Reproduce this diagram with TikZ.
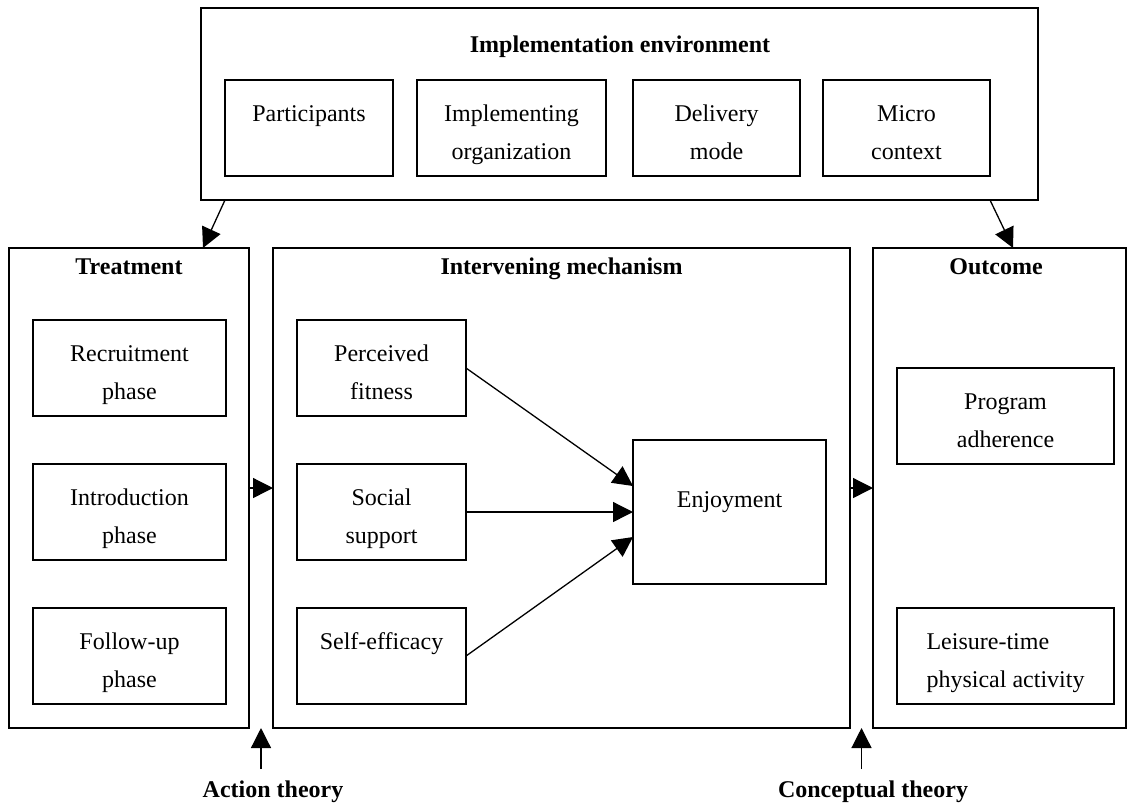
\documentclass[tikz,border=0pt]{standalone}
\usepackage{fontspec}
\setmainfont{Liberation Serif}
\usetikzlibrary{positioning,calc,arrows.meta}

\begin{document}
\begin{tikzpicture}[x=0.5pt,y=-0.5pt,line width=0.65pt,
  >={Triangle[length=10pt,width=10pt]},
  box/.style={draw,inner sep=0pt,outer sep=0pt,align=center,
    font=\fontsize{12}{19}\selectfont},
  item/.style={box,minimum height=48pt,text height=31.5pt,text depth=0pt},
  group/.style={box,minimum height=240pt},
  title/.style={anchor=base,font=\fontsize{12}{14}\selectfont\bfseries}]
  \useasboundingbox (0,0) rectangle (1128,805);

  % implementation environment
  \node[box,minimum width=418.5pt,minimum height=96pt] (env) at (619.5,104) {};
  \node[title] (tenv) at (620,52) {Implementation environment};
  \node[item,minimum width=84pt]   (part)  at (309,128)   {Participants\\\vphantom{g}};
  \node[item,minimum width=94.5pt] (impl)  at (511.5,128) {Implementing\\organization};
  \node[item,minimum width=83.5pt] (deliv) at (716.5,128) {Delivery\\mode};
  \node[item,minimum width=83.5pt] (micro) at (906.5,128) {Micro\\context};

  % treatment
  \node[group,minimum width=120pt] (treat) at (129,488) {};
  \node[title] (ttreat) at (129,274) {Treatment};
  \node[item,minimum width=96.5pt] (recr)   at (129.5,368) {Recruitment\\phase};
  \node[item,minimum width=96.5pt] (intro)  at (129.5,512) {Introduction\\phase};
  \node[item,minimum width=96.5pt] (follow) at (129.5,656) {Follow-up\\phase};

  % intervening mechanism
  \node[group,minimum width=288.5pt] (inter) at (561.5,488) {};
  \node[title] (tinter) at (561.5,274) {Intervening mechanism};
  \node[item,minimum width=84.5pt] (perc)   at (381.5,368) {Perceived\\fitness};
  \node[item,minimum width=84.5pt] (social) at (381.5,512) {Social\\support};
  \node[item,minimum width=84.5pt] (self)   at (381.5,656) {Self-efficacy\\\vphantom{g}};
  \node[box,minimum width=96.5pt,minimum height=72pt,text depth=12.5pt] (enjoy) at (729.5,512) {Enjoyment};

  % outcome
  \node[group,minimum width=126.5pt] (outc) at (999.5,488) {};
  \node[title] (toutc) at (996,274) {Outcome};
  \node[item,minimum width=108.5pt] (prog) at (1005.5,416) {Program\\adherence};
  \node[item,minimum width=108.5pt,align=left] (leis) at (1005.5,656) {Leisure-time\\physical activity};

  % theories
  \node[title] (act)  at (273,797) {Action theory};
  \node[title] (conc) at (873,797) {Conceptual theory};
  \coordinate (gapA) at ($(treat.south east)!0.5!(inter.south west)$);
  \coordinate (gapC) at ($(inter.south east)!0.5!(outc.south west)$);

  \path[->]
  (part.west |- env.south) edge ([xshift=97pt]treat.north west)
  (micro.east |- env.south) edge ([xshift=70pt]outc.north west)
  (treat) edge (inter)
  (inter) edge (outc)
  (perc.east) edge ([yshift=13pt]enjoy.west)
  (social) edge (enjoy)
  (self.east) edge ([yshift=-12.5pt]enjoy.west)
  ([yshift=2pt]act.north -| gapA) edge (gapA)
  ([yshift=2pt]conc.north -| gapC) edge (gapC)
  ;
\end{tikzpicture}
\end{document}
